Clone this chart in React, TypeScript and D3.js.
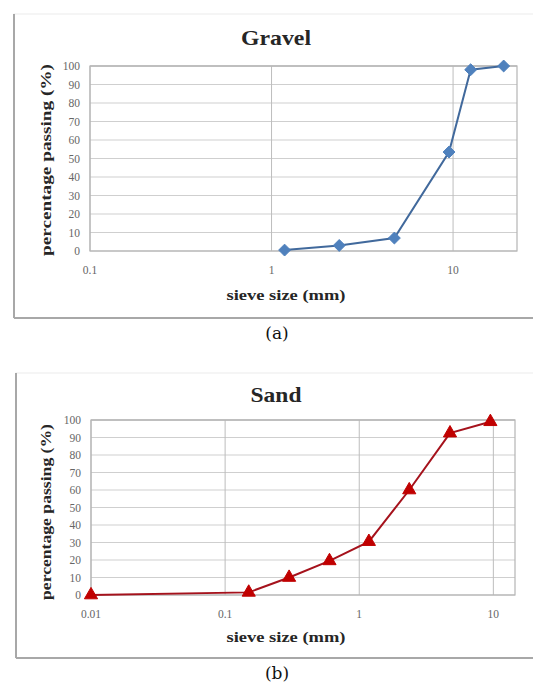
import React, { useEffect, useRef } from 'react';
import * as d3 from 'd3';

// sieve data
const gravelSize = [1.18, 2.36, 4.75, 9.5, 12.5, 19];
const gravelPassing = [0.5, 3, 7, 53.5, 98, 100];
const sandSize = [0.01, 0.15, 0.3, 0.6, 1.18, 2.36, 4.75, 9.5];
const sandPassing = [0, 1.5, 10, 19.5, 30.5, 60, 92.5, 99];

const yTicks = [0, 10, 20, 30, 40, 50, 60, 70, 80, 90, 100];
const gravelXTicks = [0.1, 1, 10];
const sandXTicks = [0.01, 0.1, 1, 10];

const serif = '"Liberation Serif", "Times New Roman", serif';

function drawChart(g, opt) {
  const { frame, plot, domain, xTicks, sizes, passing, title, color, lineColor, marker, caption } = opt;

  // outer frame
  g.append('rect')
    .attr('x', frame.x).attr('y', frame.y)
    .attr('width', 533 - frame.x + 5).attr('height', frame.bottom - frame.y)
    .attr('fill', '#fff').attr('stroke', '#ececec').attr('stroke-width', 1);
  g.append('line')
    .attr('x1', frame.x).attr('x2', frame.x)
    .attr('y1', frame.y).attr('y2', frame.bottom)
    .attr('stroke', '#a8a8a8').attr('stroke-width', 2);
  g.append('line')
    .attr('x1', frame.x).attr('x2', 533)
    .attr('y1', frame.bottom).attr('y2', frame.bottom)
    .attr('stroke', '#a8a8a8').attr('stroke-width', 2);

  const x = d3.scaleLog().domain(domain).range([plot.left, plot.right]);
  const y = d3.scaleLinear().domain([0, 100]).range([plot.bottom, plot.top]);

  // horizontal grid
  g.append('g').selectAll('line').data(yTicks).join('line')
    .attr('x1', plot.left).attr('x2', plot.right)
    .attr('y1', d => y(d)).attr('y2', d => y(d))
    .attr('stroke', d => (d === 100 ? '#a0a0a0' : '#cfcfcf'))
    .attr('stroke-width', d => (d === 100 ? 1.2 : 1));

  // vertical grid at decades
  g.append('g').selectAll('line').data(xTicks).join('line')
    .attr('x1', d => x(d)).attr('x2', d => x(d))
    .attr('y1', plot.top).attr('y2', plot.bottom)
    .attr('stroke', '#bdbdbd').attr('stroke-width', 1);

  // plot border
  g.append('rect')
    .attr('x', plot.left).attr('y', plot.top)
    .attr('width', plot.right - plot.left).attr('height', plot.bottom - plot.top)
    .attr('fill', 'none').attr('stroke', '#b5b5b5').attr('stroke-width', 1.2);

  // tick labels
  g.append('g').selectAll('text').data(yTicks).join('text')
    .attr('x', plot.left - 10).attr('y', d => y(d))
    .attr('dy', '0.35em').attr('text-anchor', 'end')
    .attr('font-family', serif).attr('font-size', 11.5)
    .attr('fill', '#666')
    .text(d => d);

  g.append('g').selectAll('text').data(xTicks).join('text')
    .attr('x', d => x(d)).attr('y', plot.bottom + 19)
    .attr('dy', '0.35em').attr('text-anchor', 'middle')
    .attr('font-family', serif).attr('font-size', 11.5)
    .attr('fill', '#666')
    .text(d => d);

  // titles
  g.append('text')
    .attr('x', 276).attr('y', opt.titleY)
    .attr('dy', '0.35em').attr('text-anchor', 'middle')
    .attr('font-family', serif).attr('font-weight', 'bold').attr('font-size', 22)
    .attr('fill', '#262626')
    .attr('textLength', opt.titleWidth).attr('lengthAdjust', 'spacingAndGlyphs')
    .text(title);

  g.append('text')
    .attr('x', 286).attr('y', opt.xLabelY)
    .attr('dy', '0.35em').attr('text-anchor', 'middle')
    .attr('font-family', serif).attr('font-weight', 'bold').attr('font-size', 15)
    .attr('fill', '#262626')
    .attr('textLength', 119).attr('lengthAdjust', 'spacingAndGlyphs')
    .text('sieve size (mm)');

  g.append('text')
    .attr('transform', `translate(46,${opt.yLabelY}) rotate(-90)`)
    .attr('dy', '0.35em').attr('text-anchor', 'middle')
    .attr('font-family', serif).attr('font-weight', 'bold').attr('font-size', 15)
    .attr('fill', '#262626')
    .attr('textLength', opt.yLabelWidth).attr('lengthAdjust', 'spacingAndGlyphs')
    .text('percentage passing (%)');

  // series
  const pts = sizes.map((s, i) => [s, passing[i]]);
  g.append('path')
    .datum(pts)
    .attr('fill', 'none')
    .attr('stroke', lineColor)
    .attr('stroke-width', 2)
    .attr('d', d3.line().x(d => x(d[0])).y(d => y(d[1])));

  g.append('g').selectAll('path').data(pts).join('path')
    .attr('transform', d => `translate(${x(d[0])},${y(d[1])})`)
    .attr('d', d3.symbol().type(marker).size(marker === d3.symbolDiamond2 ? 90 : 75)())
    .attr('fill', color)
    .attr('stroke', color)
    .attr('stroke-width', 1);

  // caption
  g.append('text')
    .attr('x', 277).attr('y', opt.captionY)
    .attr('dy', '0.35em').attr('text-anchor', 'middle')
    .attr('font-family', '"DejaVu Serif", serif').attr('font-size', 17)
    .attr('fill', '#111')
    .text(caption);
}

export default function App() {
  const ref = useRef(null);

  useEffect(() => {
    const svg = d3.select(ref.current);
    svg.selectAll('*').remove();

    drawChart(svg.append('g'), {
      frame: { x: 14, y: 14, bottom: 318 },
      plot: { left: 90, right: 517, top: 66, bottom: 251 },
      domain: [0.1, 22.5],
      xTicks: gravelXTicks,
      sizes: gravelSize,
      passing: gravelPassing,
      title: 'Gravel',
      titleY: 37,
      titleWidth: 70,
      xLabelY: 295,
      yLabelY: 160,
      yLabelWidth: 192,
      color: '#4f81bd',
      lineColor: '#41699c',
      marker: d3.symbolDiamond2,
      caption: '(a)',
      captionY: 333,
    });

    drawChart(svg.append('g'), {
      frame: { x: 16, y: 373, bottom: 658 },
      plot: { left: 91, right: 515, top: 420, bottom: 595 },
      domain: [0.01, 14.5],
      xTicks: sandXTicks,
      sizes: sandSize,
      passing: sandPassing,
      title: 'Sand',
      titleY: 394,
      titleWidth: 51,
      xLabelY: 637,
      yLabelY: 512,
      yLabelWidth: 176,
      color: '#c00000',
      lineColor: '#a5121c',
      marker: d3.symbolTriangle,
      caption: '(b)',
      captionY: 673,
    });
  }, []);

  return (
    <svg
      ref={ref}
      width={533}
      height={682}
      style={{ position: 'absolute', left: 0, top: 0, background: '#fff' }}
    />
  );
}
